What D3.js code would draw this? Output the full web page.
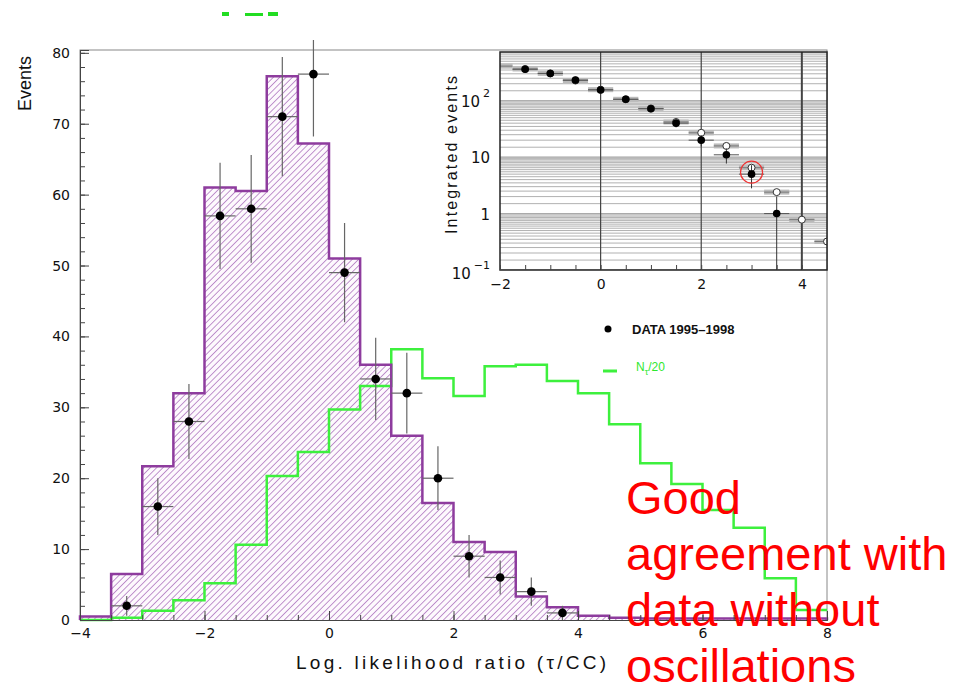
<!DOCTYPE html>
<meta charset="utf-8">
<script src="https://cdn.jsdelivr.net/npm/d3@7"></script>
<style>
body { margin: 0; background: #fff; }
text { font-family: "Liberation Sans", Arial, sans-serif; }
.tick text { font-family: "DejaVu Sans", sans-serif; font-size: 14px; fill: #111; }
.axis path, .axis line { stroke: #444; }
</style>
<body>
<script>

// main histogram, bins of 0.5 from -4 to 8
var binEdges = d3.range(-4, 8.001, 0.5);
var mcNoOsc = [0.5, 6.5, 21.7, 32, 61, 60.5, 76.7, 67.2, 51, 36, 26, 16.5, 11, 9.6, 3.3, 1.8, 0.6, 0.3, 0.2, 0.2, 0.2, 0.2, 0.2, 0.2];
var nTau20  = [0, 0.3, 1.3, 2.8, 5.2, 10.6, 20.3, 23.7, 29.7, 33, 38.2, 34.1, 31.6, 35.8, 36, 33.7, 32, 27.6, 22.1, 19.2, 15.5, 13, 5.9, 1.4];

// data points (bin centres)
var dataX   = [-3.25, -2.75, -2.25, -1.75, -1.25, -0.75, -0.25, 0.25, 0.75, 1.25, 1.75, 2.25, 2.75, 3.25, 3.75];
var dataY   = [2, 16, 28, 57, 58, 71, 77, 49, 34, 32, 20, 9, 6, 4, 1];
var dataErr = [1.4, 4, 5.3, 7.5, 7.6, 8.4, 8.8, 7, 5.8, 5.7, 4.5, 3, 2.4, 2, 1];

var xTicks = [-4, -2, 0, 2, 4, 6, 8];
var yTicks = [0, 10, 20, 30, 40, 50, 60, 70, 80];

// inset: integrated events
var intX   = [-1.5, -1, -0.5, 0, 0.5, 1, 1.5, 2, 2.5, 3, 3.5];
var intY   = [361, 303, 232, 155, 106, 72, 40, 20, 11, 5, 1];
var intErr = [19, 17.4, 15.2, 12.4, 10.3, 8.5, 6.3, 4.5, 3.3, 2.2, 1];
var expX   = [-2, -1.5, -1, -0.5, 0, 0.5, 1, 1.5, 2, 2.5, 3, 3.5, 4, 4.5];
var expY   = [410, 365, 305, 228, 157, 106, 73, 42, 27, 15.8, 6.5, 2.4, 0.78, 0.32];
var insetXTicks = [-2, 0, 2, 4];
var insetYTicks = [{v: 100, b: "10", e: "2"}, {v: 10, b: "10", e: ""}, {v: 1, b: "1", e: ""}, {v: 0.1, b: "10", e: "\u22121"}];

var width = 953, height = 689;

var svg = d3.select("body").append("svg")
    .attr("width", width)
    .attr("height", height);

var defs = svg.append("defs");
var hatch = defs.append("pattern")
    .attr("id", "hatch")
    .attr("patternUnits", "userSpaceOnUse")
    .attr("width", 4.5).attr("height", 4.5)
    .attr("patternTransform", "rotate(45)");
hatch.append("rect").attr("width", 4.5).attr("height", 4.5).attr("fill", "#fdf9fd");
hatch.append("line")
    .attr("x1", 0).attr("y1", 0).attr("x2", 0).attr("y2", 4.5)
    .attr("stroke", "#b27bc2").attr("stroke-width", 1.6);

defs.append("clipPath").attr("id", "mainClip")
  .append("rect").attr("x", 0).attr("y", 40).attr("width", 953).attr("height", 649);

var x = d3.scaleLinear().domain([-4, 8]).range([80, 827]);
var y = d3.scaleLinear().domain([0, 80.4]).range([620, 50]);

// step path from bins
function stepPath(vals, closeEnds) {
  var p = d3.path();
  p.moveTo(x(binEdges[0]), y(closeEnds ? 0 : vals[0]));
  vals.forEach(function(v, i) {
    p.lineTo(x(binEdges[i]), y(v));
    p.lineTo(x(binEdges[i + 1]), y(v));
  });
  if (closeEnds) p.lineTo(x(binEdges[vals.length]), y(0));
  return p.toString();
}

// frame
svg.append("rect")
    .attr("x", x(-4)).attr("y", y(80.4))
    .attr("width", x(8) - x(-4)).attr("height", y(0) - y(80.4))
    .attr("fill", "none").attr("stroke", "#888").attr("stroke-width", 1);

svg.append("path")
    .attr("d", stepPath(mcNoOsc, true) + "Z")
    .attr("fill", "url(#hatch)")
    .attr("stroke", "none");

svg.append("path")
    .attr("d", stepPath(nTau20, false))
    .attr("fill", "none")
    .attr("stroke", "#3df03d")
    .attr("stroke-width", 2.5);

svg.append("path")
    .attr("d", stepPath(mcNoOsc, true))
    .attr("fill", "none")
    .attr("stroke", "#8e3c9e")
    .attr("stroke-width", 2.5);

// axes
svg.append("g").attr("class", "axis")
    .attr("transform", "translate(0," + y(0) + ")")
    .call(d3.axisBottom(x).tickValues(xTicks).tickSize(-9).tickPadding(8));
svg.append("g").attr("class", "axis")
    .attr("transform", "translate(0," + y(0) + ")")
    .call(d3.axisBottom(x).tickValues(d3.range(-4, 8.01, 0.5)).tickSize(-5).tickFormat(""));
svg.append("g").attr("class", "axis")
    .attr("transform", "translate(" + x(-4) + ",0)")
    .call(d3.axisLeft(y).tickValues(yTicks).tickSize(-9).tickPadding(10));
svg.append("g").attr("class", "axis")
    .attr("transform", "translate(" + x(-4) + ",0)")
    .call(d3.axisLeft(y).tickValues(d3.range(0, 80.1, 2)).tickSize(-5).tickFormat(""));
svg.selectAll(".axis .domain").attr("stroke", "#555");

// data points
var pts = svg.append("g").attr("clip-path", "url(#mainClip)")
    .selectAll("g").data(dataX).enter().append("g");
pts.append("line")
    .attr("x1", function(d) { return x(d); }).attr("x2", function(d) { return x(d); })
    .attr("y1", function(d, i) { return y(dataY[i] + dataErr[i]); })
    .attr("y2", function(d, i) { return y(Math.max(0, dataY[i] - dataErr[i])); })
    .attr("stroke", "#666").attr("stroke-width", 1.2);
pts.append("line")
    .attr("x1", function(d) { return x(d - 0.25); }).attr("x2", function(d) { return x(d + 0.25); })
    .attr("y1", function(d, i) { return y(dataY[i]); })
    .attr("y2", function(d, i) { return y(dataY[i]); })
    .attr("stroke", "#666").attr("stroke-width", 1.2);
pts.append("circle")
    .attr("cx", function(d) { return x(d); })
    .attr("cy", function(d, i) { return y(dataY[i]); })
    .attr("r", 4.3).attr("fill", "#000");

// axis titles
svg.append("text")
    .attr("x", 451).attr("y", 669)
    .attr("text-anchor", "middle")
    .attr("textLength", 310).attr("lengthAdjust", "spacing")
    .style("font-size", "19px").style("fill", "#111")
    .text("Log. likelihood ratio (\u03c4/CC)");
svg.append("text")
    .attr("transform", "translate(31,56) rotate(-90)")
    .attr("text-anchor", "end")
    .style("font-size", "18px").style("fill", "#111")
    .text("Events");

// legend
svg.append("circle").attr("cx", 608).attr("cy", 329).attr("r", 3.5).attr("fill", "#000");
svg.append("text").attr("x", 632).attr("y", 334)
    .style("font-size", "13px").style("font-weight", "bold").style("fill", "#111")
    .text("DATA 1995\u20131998");
svg.append("line").attr("x1", 603).attr("x2", 617).attr("y1", 371).attr("y2", 371)
    .attr("stroke", "#3df03d").attr("stroke-width", 3);
var lg = svg.append("text").attr("x", 636).attr("y", 371)
    .style("font-size", "12px").style("fill", "#2ee82e");
lg.append("tspan").text("N");
lg.append("tspan").attr("dy", 4).style("font-size", "9px").text("\u03c4");
lg.append("tspan").attr("dy", -4).text("/20");

// ---- inset ----
var ix = d3.scaleLinear().domain([-2, 4.5]).range([500, 827]);
var iy = d3.scaleLog().domain([0.1, 730]).range([270, 52]);

defs.append("clipPath").attr("id", "insetClip")
  .append("rect").attr("x", 500).attr("y", 52).attr("width", 327).attr("height", 218);

var inset = svg.append("g");
inset.append("rect").attr("x", 500).attr("y", 52).attr("width", 327).attr("height", 218)
    .attr("fill", "#fff");

var grid = [];
[0.1, 1, 10, 100].forEach(function(dec) {
  d3.range(1, 10.01, 0.5).forEach(function(k) { grid.push(k * dec); });
});
var ig = inset.append("g").attr("clip-path", "url(#insetClip)");
ig.selectAll("line.h").data(grid.filter(function(v) { return v >= 0.1 && v <= 730; }))
  .enter().append("line")
    .attr("x1", 500).attr("x2", 827)
    .attr("y1", function(d) { return iy(d); }).attr("y2", function(d) { return iy(d); })
    .attr("stroke", "#a8a8a8").attr("stroke-width", 0.9);
ig.selectAll("line.v").data([0, 2, 4]).enter().append("line")
    .attr("x1", function(d) { return ix(d); }).attr("x2", function(d) { return ix(d); })
    .attr("y1", 52).attr("y2", 270)
    .attr("stroke", "#444").attr("stroke-width", function(d) { return d == 4 ? 2 : 1.2; });

// expectation (open)
var ep = ig.selectAll("g.e").data(expX).enter().append("g");
ep.append("rect")
    .attr("x", function(d) { return ix(d - 0.25); })
    .attr("y", function(d, i) { return iy(expY[i]) - 2.5; })
    .attr("width", ix(0.5) - ix(0)).attr("height", 5)
    .attr("fill", "#bbb");
ep.append("line")
    .attr("x1", function(d) { return ix(d - 0.25); }).attr("x2", function(d) { return ix(d + 0.25); })
    .attr("y1", function(d, i) { return iy(expY[i]); }).attr("y2", function(d, i) { return iy(expY[i]); })
    .attr("stroke", "#777").attr("stroke-width", 1);
ep.filter(function(d) { return d > -2; }).append("circle")
    .attr("cx", function(d) { return ix(d); })
    .attr("cy", function(d) { return iy(expY[expX.indexOf(d)]); })
    .attr("r", 3.5).attr("fill", "#fff").attr("stroke", "#333").attr("stroke-width", 1);

// integrated data (closed)
var ip = ig.selectAll("g.d").data(intX).enter().append("g");
ip.append("line")
    .attr("x1", function(d) { return ix(d); }).attr("x2", function(d) { return ix(d); })
    .attr("y1", function(d, i) { return iy(intY[i] + intErr[i]); })
    .attr("y2", function(d, i) { return iy(Math.max(0.1, intY[i] - intErr[i])); })
    .attr("stroke", "#333").attr("stroke-width", 1);
ip.append("line")
    .attr("x1", function(d) { return ix(d - 0.25); }).attr("x2", function(d) { return ix(d + 0.25); })
    .attr("y1", function(d, i) { return iy(intY[i]); }).attr("y2", function(d, i) { return iy(intY[i]); })
    .attr("stroke", "#555").attr("stroke-width", 1);
ip.append("circle")
    .attr("cx", function(d) { return ix(d); })
    .attr("cy", function(d, i) { return iy(intY[i]); })
    .attr("r", 3.8).attr("fill", "#000");

// highlighted point
ig.append("circle")
    .attr("cx", ix(intX[9])).attr("cy", iy(intY[9]) - 2)
    .attr("r", 11).attr("fill", "none").attr("stroke", "#e33").attr("stroke-width", 1.2);

inset.append("rect").attr("x", 500).attr("y", 52).attr("width", 327).attr("height", 218)
    .attr("fill", "none").attr("stroke", "#222").attr("stroke-width", 1.5);

svg.append("g").attr("class", "axis")
    .attr("transform", "translate(0,270)")
    .call(d3.axisBottom(ix).tickValues(insetXTicks).tickFormat(d3.format("d")).tickSize(0).tickPadding(9))
    .select(".domain").remove();
svg.append("g").attr("class", "axis")
    .attr("transform", "translate(0,270)")
    .call(d3.axisBottom(ix).tickValues(d3.range(-2, 4.51, 0.5)).tickSize(-5).tickFormat(""))
    .select(".domain").remove();

var ylab = svg.append("g").selectAll("text").data(insetYTicks).enter().append("text")
    .attr("x", 490)
    .attr("y", function(d) { return iy(d.v) + 6 + (d.v == 0.1 ? 3 : 0); })
    .attr("text-anchor", "end")
    .style("font-family", "DejaVu Sans, sans-serif")
    .style("font-size", "15px").style("fill", "#111");
ylab.append("tspan").text(function(d) { return d.b; });
ylab.append("tspan")
    .attr("dy", -10).attr("dx", 3)
    .style("font-size", "11px")
    .text(function(d) { return d.e; });

svg.append("text")
    .attr("transform", "translate(457,155) rotate(-90)")
    .attr("text-anchor", "middle")
    .attr("textLength", 158).attr("lengthAdjust", "spacing")
    .style("font-size", "16px").style("fill", "#111")
    .text("Integrated events");

// clipped title remnant at the top
var remnant = svg.append("g").attr("fill", "#22dd22");
remnant.append("rect").attr("x", 222).attr("y", 12).attr("width", 7).attr("height", 4);
remnant.append("rect").attr("x", 245).attr("y", 13).attr("width", 18).attr("height", 3);
remnant.append("rect").attr("x", 268).attr("y", 12).attr("width", 10).attr("height", 4);

// annotation
var note = ["Good", "agreement with", "data without", "oscillations"];
svg.append("g").selectAll("text").data(note).enter().append("text")
    .attr("x", 626)
    .attr("y", function(d, i) { return 514 + i * 56; })
    .style("font-size", "47px").style("fill", "#ff0000")
    .text(function(d) { return d; });

</script>
</body>
</html>
